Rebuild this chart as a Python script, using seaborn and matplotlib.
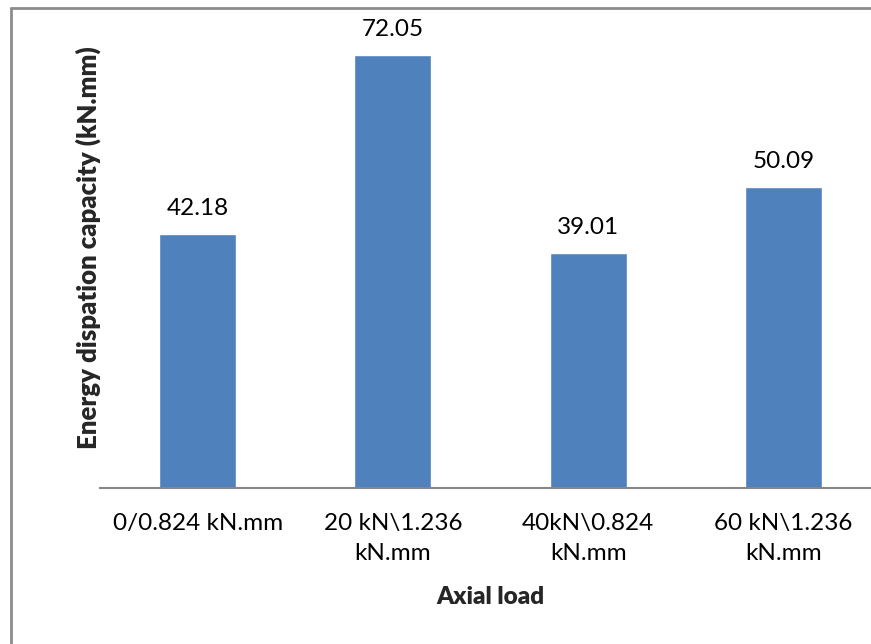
import matplotlib
matplotlib.use("Agg")
import matplotlib.pyplot as plt
import seaborn as sns
import pandas as pd
from matplotlib.lines import Line2D

categories = ["0/0.824 kN.mm", "20 kN\\1.236\nkN.mm", "40kN\\0.824\nkN.mm", "60 kN\\1.236\nkN.mm"]
energy = [42.18, 72.05, 39.01, 50.09]
value_labels = ["42.18", "72.05", "39.01", "50.09"]

sns.set_theme(style="white")
plt.rcParams['font.family'] = ['Lato', 'DejaVu Sans']

df = pd.DataFrame({"load": categories, "energy": energy})

fig = plt.figure(figsize=(8.71, 6.44), dpi=100)
ax = fig.add_axes([100 / 871, 1 - 488 / 644, 781 / 871, 481 / 644])

sns.barplot(data=df, x="load", y="energy", color="#4F81BD", saturation=1,
            width=0.395, ax=ax)
ax.set_ylim(0, 80)
ax.set_xlim(-0.5, 3.5)

for i, v in enumerate(energy):
    ax.annotate(value_labels[i], (i, v), xytext=(0, 11), textcoords="offset points",
                ha="center", va="bottom", fontsize=17.5, color="black")

for s in ["top", "right", "left"]:
    ax.spines[s].set_visible(False)
ax.spines["bottom"].set_color("#868686")
ax.spines["bottom"].set_linewidth(1.5)
ax.set_yticks([])
ax.tick_params(axis="x", length=0, pad=18, labelsize=17.5, colors="black")
for t in ax.get_xticklabels():
    t.set_linespacing(1.5)

ax.set_xlabel("")
ax.set_ylabel("")
fig.text(490 / 871, 1 - 597 / 644, "Axial load", ha="center", va="center",
         fontsize=17.5, fontweight="heavy")
fig.text(88 / 871, 1 - 248 / 644, "Energy dispation capacity (kN.mm)", ha="center",
         va="center", rotation=90, fontsize=18.5, fontweight="heavy")

# chart frame (only top and left edge visible)
fig.add_artist(Line2D([10.5 / 871, 10.5 / 871], [0, 1 - 7.5 / 644], transform=fig.transFigure,
                      color="#8c8c8c", linewidth=2))
fig.add_artist(Line2D([10.5 / 871, 1], [1 - 7.5 / 644, 1 - 7.5 / 644], transform=fig.transFigure,
                      color="#8c8c8c", linewidth=2))

fig.savefig("out.png", dpi=100)
